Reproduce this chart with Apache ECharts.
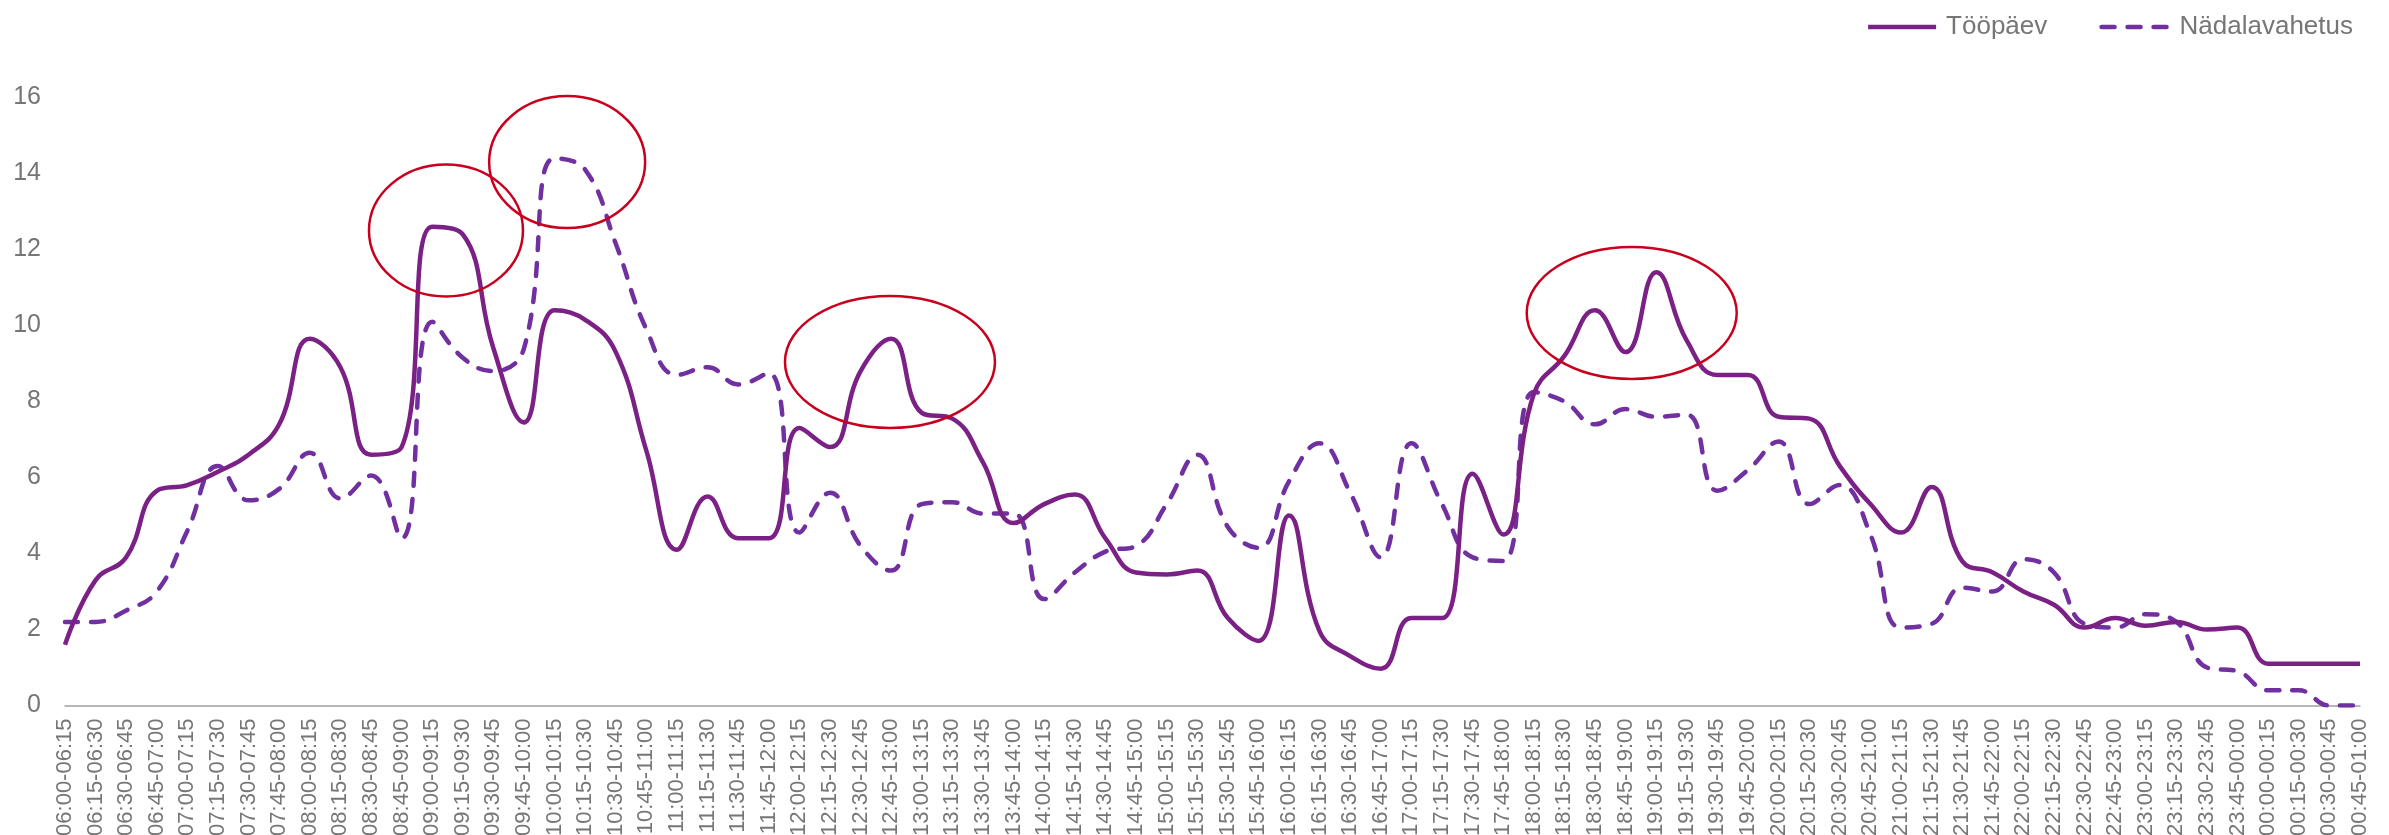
<!DOCTYPE html>
<html>
<head>
<meta charset="utf-8">
<script src="https://cdn.jsdelivr.net/npm/echarts@6/dist/echarts.min.js"></script>
<style>html,body{margin:0;padding:0;background:#fff}#c{width:2389px;height:835px}</style>
</head>
<body>
<div id="c"></div>
<script>
var categories = ["06:00-06:15","06:15-06:30","06:30-06:45","06:45-07:00","07:00-07:15","07:15-07:30","07:30-07:45","07:45-08:00","08:00-08:15","08:15-08:30","08:30-08:45","08:45-09:00","09:00-09:15","09:15-09:30","09:30-09:45","09:45-10:00","10:00-10:15","10:15-10:30","10:30-10:45","10:45-11:00","11:00-11:15","11:15-11:30","11:30-11:45","11:45-12:00","12:00-12:15","12:15-12:30","12:30-12:45","12:45-13:00","13:00-13:15","13:15-13:30","13:30-13:45","13:45-14:00","14:00-14:15","14:15-14:30","14:30-14:45","14:45-15:00","15:00-15:15","15:15-15:30","15:30-15:45","15:45-16:00","16:00-16:15","16:15-16:30","16:30-16:45","16:45-17:00","17:00-17:15","17:15-17:30","17:30-17:45","17:45-18:00","18:00-18:15","18:15-18:30","18:30-18:45","18:45-19:00","19:00-19:15","19:15-19:30","19:30-19:45","19:45-20:00","20:00-20:15","20:15-20:30","20:30-20:45","20:45-21:00","21:00-21:15","21:15-21:30","21:30-21:45","21:45-22:00","22:00-22:15","22:15-22:30","22:30-22:45","22:45-23:00","23:00-23:15","23:15-23:30","23:30-23:45","23:45-00:00","00:00-00:15","00:15-00:30","00:30-00:45","00:45-01:00"];

var workday = [1.6,3.3,3.9,5.65,5.8,6.15,6.6,7.4,9.65,8.9,
  6.6,6.8,12.6,12.4,9.4,7.45,10.4,10.15,9.3,6.7,
  4.1,5.5,4.4,4.4,7.3,6.8,8.8,9.65,7.7,7.55,
  6.4,4.8,5.3,5.55,4.4,3.5,3.45,3.55,2.3,1.7,
  5.0,1.95,1.3,0.97,2.3,2.3,6.1,4.5,8.2,9.2,
  10.4,9.3,11.4,9.6,8.7,8.7,7.6,7.55,6.3,5.3,
  4.55,5.75,3.8,3.5,3.0,2.65,2.05,2.3,2.1,2.2,
  2.0,2.05,1.1,1.1,1.1,1.1];

var weekend = [2.2,2.2,2.5,3.0,4.6,6.3,5.4,5.7,6.65,5.45,
  6.05,4.4,10.1,9.15,8.8,9.4,14.4,14.1,12.15,9.9,
  8.7,8.9,8.45,8.75,4.55,5.6,4.2,3.55,5.3,5.35,
  5.05,5.05,2.8,3.5,4.05,4.2,5.3,6.6,4.7,4.15,
  5.9,6.9,5.6,3.9,6.9,5.3,3.9,3.8,8.25,8.0,
  7.4,7.8,7.6,7.65,5.65,6.2,6.95,5.3,5.8,4.5,
  2.05,2.15,3.1,3.0,3.85,3.5,2.15,2.05,2.4,2.2,
  1.0,0.9,0.4,0.4,0.0,0.0];

var seriesNames = ["Tööpäev","Nädalavahetus"];
var yTicks = {min:0, max:16, interval:2};

// annotation ellipses: center as [category index, value]
var highlightCenters = [[12.45,12.5],[16.41,14.3],[26.96,9.04],[51.2,10.33]];
var highlightRadii = [[77,66],[78,66],[105,66],[105,66]];

var FONT = "Liberation Sans, Arial, sans-serif";
var chart = echarts.init(document.getElementById('c'), null, {renderer:'canvas'});
chart.setOption({
  animation:false,
  backgroundColor:'#ffffff',
  textStyle:{fontFamily:FONT},
  legend:{
    right:31, top:9,
    itemWidth:68, itemHeight:28, itemGap:52,
    itemStyle:{color:'rgba(0,0,0,0)', borderColor:'rgba(0,0,0,0)', borderWidth:0},
    lineStyle:{width:4.5},
    textStyle:{fontFamily:FONT, fontSize:26, color:'#767676', padding:[0,0,0,5]},
    data:seriesNames
  },
  grid:{left:65, right:29, top:97.5, bottom:129.5, containLabel:false, outerBoundsMode:'none'},
  xAxis:{
    type:'category', data:categories, boundaryGap:false,
    axisLine:{lineStyle:{color:'#a0a0a0', width:1.5}},
    axisTick:{show:false},
    axisLabel:{rotate:90, interval:0, fontSize:22, color:'#767676', margin:13, fontFamily:FONT}
  },
  yAxis:{
    type:'value', min:yTicks.min, max:yTicks.max, interval:yTicks.interval,
    axisLine:{show:false}, axisTick:{show:false}, splitLine:{show:false},
    axisLabel:{fontSize:25, color:'#767676', margin:24, fontFamily:FONT}
  },
  series:[
    {name:seriesNames[0], type:'line', data:workday, smooth:0.45, symbol:'none',
     lineStyle:{color:'#7B2186', width:4.5}, itemStyle:{color:'#7B2186'}, z:3},
    {name:seriesNames[1], type:'line', data:weekend, smooth:0.45, symbol:'none',
     lineStyle:{color:'#7030A0', width:4.5, type:[13,13], cap:'round'}, itemStyle:{color:'#7030A0'}, z:2}
  ]
});

function catToPixel(c, v){
  var i0 = Math.floor(c), i1 = Math.min(i0+1, categories.length-1);
  var p0 = chart.convertToPixel({gridIndex:0}, [i0, v]);
  var p1 = chart.convertToPixel({gridIndex:0}, [i1, v]);
  var f = c - i0;
  return [p0[0] + (p1[0]-p0[0])*f, p0[1]];
}
var els = highlightCenters.map(function(ct, k){
  var p = catToPixel(ct[0], ct[1]);
  return {type:'ellipse', shape:{cx:p[0], cy:p[1], rx:highlightRadii[k][0], ry:highlightRadii[k][1]},
          style:{fill:'none', stroke:'#C8001E', lineWidth:2.5}, z:10, silent:true};
});
chart.setOption({graphic:{elements:els}});
</script>
</body>
</html>
